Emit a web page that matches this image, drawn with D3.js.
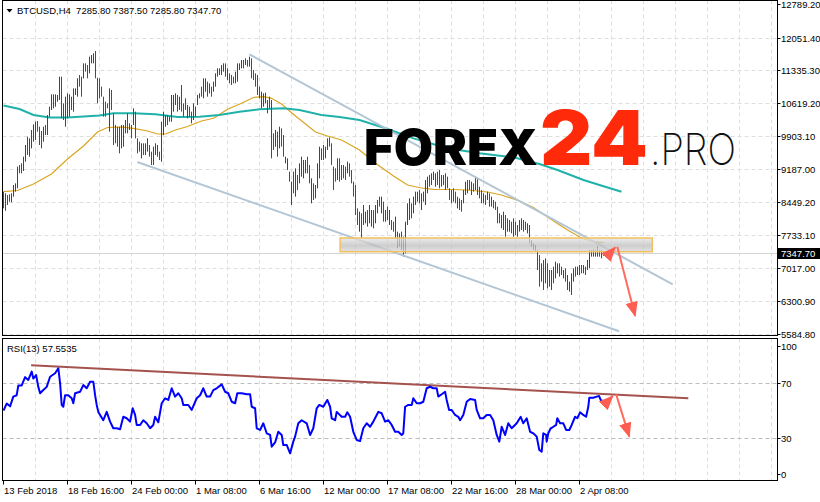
<!DOCTYPE html>
<html><head><meta charset="utf-8">
<script src="https://cdn.jsdelivr.net/npm/d3@7"></script>
<style>
html,body{margin:0;padding:0;background:#fff;}
svg{display:block;}
text{font-family:"Liberation Sans",Arial,sans-serif;font-size:9.5px;fill:#000;}
</style></head><body>
<svg id="chart" width="820" height="502"></svg>
<script>
// BTCUSD H4 bars, one entry per 4-hour bar (13 Feb 2018 08:00 onward)
const open = [
8613,8346,8569,8595,8492,8627,8722,8854,9233,9261,
9201,9415,9808,9531,9713,9855,9896,10184,10027,9936,
9845,10099,10012,10370,10540,10569,10598,10683,10792,11018,
10544,10238,10398,10424,10705,10537,10829,10843,11186,11113,
11230,11456,11397,11346,11528,11536,11642,11066,11077,10938,
10676,10588,10595,10187,10822,10260,10063,10020,9990,9735,
9765,10019,10311,10151,10085,10216,10318,9786,9735,9481,
9692,9539,9619,9655,9503,9349,9539,9502,9524,9517,
10027,10158,10318,10238,10333,10508,10632,10727,10530,10901,
10559,10676,10347,10500,10384,10326,10370,10625,10749,10938,
10814,10930,11025,10880,10938,10916,11040,11237,11354,11281,
11346,11434,11178,11229,11193,11171,11106,11171,11375,11419,
11529,11484,11536,11463,11514,11302,11215,11150,10931,10581,
10602,10664,10632,10712,10435,9888,9743,9889,9728,9990,
9830,9334,9211,9079,8496,9028,8701,8984,8955,9101,
9057,9145,9378,9189,8540,8795,8598,8868,9116,9429,
9640,9466,9648,9832,9648,9131,9138,9036,9313,9203,
9211,9175,9138,9247,9102,8839,8701,8248,7898,8103,
8044,8045,8212,8074,7994,8205,8074,8270,8533,8285,
8380,8081,8300,8023,8022,7986,7761,7738,7717,7731,
7615,7476,8052,8161,8365,8285,8452,8511,8664,8358,
8642,8503,8723,8999,8882,8977,8853,9065,9080,8846,
8875,9014,8963,8708,8664,8525,8635,8372,8489,8453,
8489,8671,8708,8897,8671,8832,8780,8904,8744,8664,
8475,8569,8540,8592,8402,8468,8431,8285,8168,8117,
7928,7797,8045,7862,7979,7782,7972,7906,7862,7899,
8015,7994,7819,7877,7600,7527,7491,7323,7163,6798,
7061,6791,7010,6900,6623,6973,6864,6944,7061,7010,
6827,6952,6602,6544,6522,6776,7002,6900,6908,7046,
6936,7010,7017,7090,7382,7297,7382,7312,7382,7374,
7285.8];
const high = [
8686,8649,8613,8627,8649,8832,8868,9233,9269,9305,
9451,9706,9888,9852,10034,10158,10216,10231,10107,10012,
10107,10143,10362,10544,10814,10814,10814,10800,11200,11200,
10617,10763,10836,10814,10763,10945,10945,11164,11237,11200,
11492,11492,11455,11638,11674,11711,11762,11178,11164,10982,
10763,10654,10617,10945,10909,10399,10143,10107,10107,10143,
10143,10253,10399,10180,10143,10508,10435,9852,9779,9743,
9743,9743,9852,9706,9561,9670,9743,9706,9561,10216,
10435,10362,10362,10326,10800,10800,10836,10800,10763,11018,
10617,10727,10581,10544,10435,10617,10544,10800,10836,10982,
11164,11164,11091,11055,10982,11091,11273,11383,11383,11455,
11492,11492,11383,11273,11237,11200,11310,11492,11492,11565,
11565,11601,11565,11638,11601,11346,11273,11237,10982,10872,
10836,10850,10690,10763,10690,9961,10034,9998,10107,10070,
9925,9451,9415,9123,8905,9123,9196,9050,9305,9451,
9378,9378,9451,9269,8977,8868,8832,9305,9670,9633,
9706,9670,9852,9873,9743,9233,9196,9415,9415,9269,
9269,9233,9342,9305,9160,8905,8832,8321,8248,8212,
8394,8248,8285,8394,8285,8285,8394,8504,8577,8577,
8467,8285,8358,8285,8066,8030,8139,7811,7775,7811,
7702,8030,8431,8540,8431,8577,8686,8686,8722,8650,
8686,8941,9014,9050,9087,9123,9087,9123,9160,9050,
9050,9087,9014,8759,8722,8759,8686,8577,8540,8504,
8722,8904,8941,8941,8904,8868,9014,8977,8795,8722,
8650,8613,8686,8650,8577,8504,8467,8358,8212,8175,
8248,8175,8103,8066,8030,8103,8030,7957,8066,8103,
8066,8030,7994,7957,7629,7556,7520,7411,7301,7119,
7192,7228,7119,6973,6973,7046,7155,7119,7119,7046,
6973,7010,6864,6718,6900,7010,7046,7046,7082,7082,
7082,7046,7192,7411,7411,7425,7411,7498,7411,7411,
7387.5];
const low = [
8321,8270,8394,8467,8453,8576,8686,8759,9087,9087,
9138,9342,9488,9451,9633,9779,9816,9998,9706,9633,
9779,9925,9925,10326,10472,10508,10544,10654,10690,10289,
10253,10107,10289,10326,10472,10435,10800,10763,10982,10763,
11164,11310,11164,11273,11492,11492,11164,10617,10727,10763,
10326,10326,10508,9998,10472,9706,9743,9670,9524,9633,
9670,9961,9961,10034,9852,10143,9852,9524,9561,9415,
9488,9488,9561,9451,9269,9269,9488,9451,9378,9342,
9925,10107,10143,10216,10216,10435,10581,10435,10472,10435,
10326,10472,10289,10326,10180,10253,10326,10581,10727,10763,
10727,10872,10763,10836,10763,10872,10982,11200,11237,11237,
11310,11200,11127,11055,11018,11055,11055,11091,11346,11383,
11383,11455,11419,11419,11164,11127,10982,10800,10727,10508,
10544,10617,10399,10508,9415,9597,9670,9451,9633,9670,
9451,9305,9160,8905,8394,8649,8577,8722,8868,9014,
8977,9087,9087,8868,8431,8504,8540,8759,8977,9378,
9378,9415,9597,9670,9269,8722,8905,8941,8905,8941,
8977,8941,9087,9014,8868,8577,8175,7957,7811,7666,
7957,7994,7921,7994,7921,7884,7994,8212,8358,8212,
8030,8030,8066,7957,7848,7811,7666,7447,7483,7410,
7265,7338,7957,8066,8103,8212,8394,8467,8431,8285,
8467,8394,8650,8795,8831,8941,8795,8831,8759,8795,
8831,8722,8759,8504,8431,8467,8431,8321,8285,8248,
8431,8613,8650,8722,8613,8686,8722,8613,8540,8431,
8431,8394,8504,8358,8358,8322,8285,7994,7994,7884,
7848,7702,7811,7811,7775,7702,7738,7702,7811,7848,
7811,7848,7775,7556,7483,7411,7374,6973,6609,6718,
6536,6682,6572,6609,6536,6682,6791,6900,6827,6864,
6791,6718,6536,6500,6427,6718,6827,6864,6864,6900,
6900,6864,6973,7010,7265,7265,7265,7265,7265,7228,
7285.8];
const close = [
8394,8573,8438,8499,8610,8781,8832,9138,9123,9131,
9388,9633,9568,9772,9954,10082,10136,10045,9786,9709,
10041,9969,10275,10500,10746,10753,10760,10771,11098,10471,
10326,10632,10727,10716,10530,10843,10916,11084,11033,10850,
11426,11346,11222,11565,11638,11667,11284,10729,10814,10807,
10413,10392,10530,10756,10559,9845,9823,9757,9641,10041,
10048,10195,10049,10063,9910,10435,9969,9590,9605,9677,
9539,9692,9794,9502,9327,9590,9692,9655,9415,10041,
10333,10311,10187,10304,10683,10727,10785,10508,10705,10552,
10384,10523,10523,10370,10231,10544,10500,10756,10814,10807,
11077,11106,10829,11011,10807,11047,11215,11346,11266,11411,
11456,11258,11332,11099,11062,11084,11259,11412,11463,11529,
11419,11572,11448,11594,11251,11171,11040,10887,10778,10799,
10778,10803,10457,10559,9670,9670,9961,9560,10012,9750,
9546,9422,9364,8949,8803,8744,9072,8788,9218,9364,
9298,9320,9160,8948,8868,8577,8774,9196,9531,9582,
9444,9619,9801,9711,9364,8824,8963,9320,9007,9007,
9035,8999,9291,9072,8926,8643,8306,8030,8161,7775,
8307,8197,7994,8314,8212,7964,8314,8446,8402,8504,
8117,8234,8124,8219,7892,7855,8044,7520,7541,7490,
7352,7892,8336,8445,8169,8504,8628,8642,8489,8577,
8511,8832,8941,8846,9036,9087,9029,8889,8839,8999,
9006,8795,8810,8555,8489,8701,8482,8526,8336,8299,
8664,8846,8883,8766,8846,8722,8956,8686,8591,8489,
8606,8438,8650,8416,8533,8358,8321,8067,8038,7942,
8168,8080,7869,8015,7826,8023,7796,7753,8015,8052,
7862,7884,7950,7636,7512,7440,7403,7061,6747,7039,
6667,7119,6681,6682,6886,6755,7082,7075,6885,6900,
6937,6776,6798,6674,6805,6952,6871,7010,7038,6936,
7046,6900,7148,7331,7294,7393,7294,7451,7294,7265,
7347.7];

// Fast moving average (bar index, price)
const maFastBar = [0,7,15,24,32,40,47,52,59,65,72,77,81,86,92,99,105,112,119,125,130,134,139,146,156,162,169,178,186,195,202,209,215,224,232,242,249,258,265,275,282,289,295,300];
const maFastVal = [8685,8711,8853,9072,9400,9684,9991,10089,10100,10071,10012,9947,9947,10034,10111,10231,10290,10487,10618,10745,10762,10727,10603,10340,9991,9903,9816,9597,9306,9028,8831,8766,8737,8733,8722,8679,8613,8482,8340,8044,7847,7673,7592,7570];

// Slow moving average, drawn with a forward shift (bar index, price)
const maSlowBar = [0,8,15,23,32,40,48,55,65,76,87,98,108,118,128,140,148,159,168,178,191,205,222,238,255,268,277,290,298,309];
const maSlowVal = [10570,10493,10362,10308,10308,10329,10351,10399,10399,10380,10318,10325,10362,10434,10487,10509,10472,10362,10318,10253,10071,9852,9634,9524,9437,9291,9160,8941,8831,8685];

// RSI(13) readings (bar index, value)
const rsiBar = [0,1.6,3.3,4.9,6.6,7.4,9.1,10.8,12.4,14.1,14.9,16.3,17.4,18.3,19.9,21.6,23.3,25.8,27.4,28.3,29.1,29.9,30.8,32.4,34.1,34.9,35.8,38.3,39.9,41.6,43.3,44.9,45.8,46.6,47.4,48.3,49.9,51.6,53.3,54.9,56.6,58.3,59.9,61.6,63.3,64.6,65.8,66.6,68.3,69.9,71.6,73.3,74.9,75.8,77.4,79.1,80.8,82.4,84.1,85.8,87.4,89.1,89.9,92.4,94.1,96.6,98.3,99.9,101.6,103.3,104.9,106.6,109.1,110.8,112.4,114.1,115.8,116.9,119.1,121.6,123.3,124.1,125.8,126.6,128.3,129.9,131.6,133.3,134.1,135.8,137.4,139.1,139.9,141.6,143.3,144.9,145.8,147.4,149.1,151.6,153.3,154.9,156.6,157.9,159.9,161.9,163.3,164.1,165.8,166.6,169.1,170.8,171.9,173.3,174.9,176.6,178.3,179.9,181.6,183.3,184.9,186.6,187.4,189.1,190.8,192.4,194.1,195.8,197.4,199.1,199.9,200.8,202.4,204.1,204.9,206.6,208.3,209.9,211.6,213.3,214.9,216.6,217.4,219.1,220.8,221.6,222.8,224.1,225.8,227.4,228.3,229.9,231.6,233.3,235.8,236.6,238.3,239.9,241.6,243.3,244.9,246.6,247.9,249.1,250.8,252.4,254.1,256.6,258.6,259.9,261.6,263.3,264.9,266.6,267.9,269.1,269.9,271.3,271.6,272.4,273.6,274.9,276.3,276.9,278.3,279.9,281.3,282.9,284.1,285.8,286.9,288.3,289.9,291.3,292.4,292.9,294.9,296.6,297.8,298.6,299.6,300];
const rsiVal = [50,55,53,60,61,68,68,74,72,78,73,75.5,67,62.4,64.7,67,74.3,76.8,80.4,69.6,54,52.7,61,61,58.8,55.2,62.4,63.5,68.3,66,70.7,70.7,61,54,49,46.8,43,49,42,37.2,37.2,36.5,45.5,44.4,42,51.6,46.8,39.6,39.6,43,40.8,37.2,39.6,45.5,41.5,55.2,58.8,57.6,66,60,62.4,58.8,54,54,50.4,58.8,61,66,60,60,64.7,66,68.8,63.5,62.4,56.3,55.2,62.4,62.4,61.7,61.7,52.7,51.6,37.2,36,40.8,33.6,32.4,24,27,34.7,32.4,25.2,25.2,19.2,27.6,31.2,40.8,43,40.8,32.4,37.2,51.6,54,52.7,57.6,52.7,44.4,43,49,45.5,45.5,48.7,45.5,34.7,28.8,28,37.2,40.8,38.3,42,46.8,49,48,42,43,39.6,34.7,34.7,32.4,33.6,52.7,54,54,58.8,55.2,55.2,56.3,66,67.1,66,66,60,61.7,63.5,57.6,50.4,50.4,46.8,45.5,43,46.8,56.3,58.3,57.6,50.4,44.4,44.4,46.8,46.8,43,32.4,27.6,38.3,32.4,40.8,37.2,40.8,45.5,40.8,44.4,34.7,33.6,31.2,21.6,20.4,33.6,32.4,27.6,33.6,37.2,38.3,39.6,44.4,40.8,40.8,36,36,39.6,45.5,44.4,48.7,46.8,45.5,52.7,59.2,59.2,60,60.4,57.6,56.3,57.55];

// Axis labels
const priceTicks = [12789.2,12051.4,11335.3,10619.2,9903.1,9187.0,8449.2,7733.1,7017.0,6300.9,5584.8];
const rsiTicks = [100,70,30,0];
const rsiLevels = [70,30];
const timeLabels = ["13 Feb 2018","18 Feb 16:00","24 Feb 00:00","1 Mar 08:00","6 Mar 16:00","12 Mar 00:00","17 Mar 08:00","22 Mar 16:00","28 Mar 00:00","2 Apr 08:00"];
const timeLabelBars = [0,32,64,96,128,160,192,224,256,288];
const lastPrice = 7347.70;
const rsiLast = 57.5535;

// Drawn analysis objects (bar index, price / RSI value)
const channelUpper = [[122.9,11689],[334.6,6660]];
const channelLower = [[66.9,9334],[307.8,5633]];
const zoneBars = [168.3,324.4];
const zonePrices = [7373,7673];
const priceArrows = [[301.6,7257,305.8,7469],[306.9,7482,315.8,5973]];
const rsiTrend = [[13.8,82.5],[342.4,58.8]];
const rsiArrows = [[300.3,54,304.6,60.4],[306.3,61.7,312.9,31.2]];

const svg = d3.select("#chart");
const L = 2.5, R = 777.5;
const mainTop = 0.5, mainBottom = 335.5, rsiTop = 338.5, rsiBottom = 480.5;

const x = d3.scaleLinear().domain([0, 1]).range([3.5, 5.5]);
const y = d3.scaleLinear().domain([5584.8, 12789.2]).range([333.5, 4]);
const yr = d3.scaleLinear().domain([0, 100]).range([480, 341]);

const defs = svg.append("defs");
defs.append("clipPath").attr("id", "clipMain").append("rect")
  .attr("x", L).attr("y", mainTop).attr("width", R - L).attr("height", mainBottom - mainTop);
defs.append("clipPath").attr("id", "clipRsi").append("rect")
  .attr("x", L).attr("y", rsiTop).attr("width", R - L).attr("height", rsiBottom - rsiTop);
const grad = defs.append("linearGradient").attr("id", "zoneFill")
  .attr("x1", 0).attr("y1", 0).attr("x2", 0).attr("y2", 1);
grad.append("stop").attr("offset", "0%").attr("stop-color", "#e6e6e6");
grad.append("stop").attr("offset", "55%").attr("stop-color", "#bdbdbd");
grad.append("stop").attr("offset", "100%").attr("stop-color", "#d9d9d9");
defs.append("marker").attr("id", "head").attr("viewBox", "0 0 12 10")
  .attr("refX", 11).attr("refY", 5).attr("markerWidth", 15).attr("markerHeight", 13)
  .attr("markerUnits", "userSpaceOnUse").attr("orient", "auto")
  .append("path").attr("d", "M0,0 L12,5 L0,10 Z").attr("fill", "#ff5d52");

const gMain = svg.append("g").attr("clip-path", "url(#clipMain)");
const gRsi = svg.append("g").attr("clip-path", "url(#clipRsi)");

// grid
const gridBars = d3.range(16, 385, 16);
[[gMain, mainTop, mainBottom], [gRsi, rsiTop, rsiBottom]].forEach(([g, t, b]) => {
  g.selectAll(null).data(gridBars).join("line")
    .attr("x1", d => x(d)).attr("x2", d => x(d)).attr("y1", t).attr("y2", b)
    .attr("stroke", "#dedede").attr("stroke-dasharray", "4,3");
});
gMain.selectAll(null).data(priceTicks.slice(1)).join("line")
  .attr("x1", L).attr("x2", R)
  .attr("y1", d => Math.round(y(d)) + 0.5).attr("y2", d => Math.round(y(d)) + 0.5)
  .attr("stroke", "#dedede").attr("stroke-dasharray", "4,3");
gRsi.selectAll(null).data(rsiLevels).join("line")
  .attr("x1", L).attr("x2", R)
  .attr("y1", d => Math.round(yr(d)) + 0.5).attr("y2", d => Math.round(yr(d)) + 0.5)
  .attr("stroke", "#bdbdbd").attr("stroke-dasharray", "4,3");

// bid line
gMain.append("line").attr("x1", L).attr("x2", R)
  .attr("y1", Math.round(y(lastPrice)) + 0.5).attr("y2", Math.round(y(lastPrice)) + 0.5)
  .attr("stroke", "#d4d4d4");

// moving averages
const lineFast = d3.line().x((d, i) => x(maFastBar[i])).y(d => y(d));
gMain.append("path").attr("d", lineFast(maFastVal)).attr("fill", "none")
  .attr("stroke", "#daa520").attr("stroke-width", 1.2);
const lineSlow = d3.line().x((d, i) => x(maSlowBar[i])).y(d => y(d));
gMain.append("path").attr("d", lineSlow(maSlowVal)).attr("fill", "none")
  .attr("stroke", "#20b2aa").attr("stroke-width", 2);

// bars
gMain.selectAll(null).data(d3.range(high.length)).join("line")
  .attr("x1", i => x(i)).attr("x2", i => x(i))
  .attr("y1", i => y(high[i])).attr("y2", i => y(low[i]))
  .attr("stroke", i => close[i] >= open[i] ? "#2f4f4f" : "#ff0000")
  .attr("stroke-width", 1);

// channel
[channelUpper, channelLower].forEach(c => {
  gMain.append("line")
    .attr("x1", x(c[0][0])).attr("y1", y(c[0][1]))
    .attr("x2", x(c[1][0])).attr("y2", y(c[1][1]))
    .attr("stroke", "#b3c6d6").attr("stroke-width", 2);
});

// resistance zone
gMain.append("rect")
  .attr("x", x(zoneBars[0])).attr("y", y(zonePrices[1]))
  .attr("width", x(zoneBars[1]) - x(zoneBars[0])).attr("height", y(zonePrices[0]) - y(zonePrices[1]))
  .attr("fill", "url(#zoneFill)").attr("fill-opacity", 0.75)
  .attr("stroke", "#f1c15f").attr("stroke-width", 1.5);

// watermark
const wm = svg.append("g");
wm.append("text").attr("x", 364).attr("y", 164.5).text("FOREX")
  .style("font-family", "Inter, Roboto, 'Open Sans', sans-serif").style("font-weight", 900)
  .style("font-size", "50px").style("fill", "#000")
  .attr("textLength", 174).attr("lengthAdjust", "spacingAndGlyphs");
wm.append("text").attr("x", 540).attr("y", 164.5).text("24")
  .style("font-family", "Inter, Roboto, 'Open Sans', sans-serif").style("font-weight", 900)
  .style("font-size", "76px").style("fill", "#ff2a0a")
  .attr("textLength", 108).attr("lengthAdjust", "spacingAndGlyphs");
wm.append("text").attr("x", 650).attr("y", 164.5).text(".PRO")
  .style("font-family", "Inter, Lato, 'Open Sans', sans-serif").style("font-weight", 200)
  .style("font-size", "44px").style("fill", "#111")
  .attr("textLength", 86).attr("lengthAdjust", "spacingAndGlyphs");

// price arrows
priceArrows.forEach(a => {
  gMain.append("line").attr("x1", x(a[0])).attr("y1", y(a[1])).attr("x2", x(a[2])).attr("y2", y(a[3]))
    .attr("stroke", "#ff6b5e").attr("stroke-width", 2).attr("marker-end", "url(#head)");
});

// RSI
gRsi.append("line")
  .attr("x1", x(rsiTrend[0][0])).attr("y1", yr(rsiTrend[0][1]))
  .attr("x2", x(rsiTrend[1][0])).attr("y2", yr(rsiTrend[1][1]))
  .attr("stroke", "#a4524e").attr("stroke-width", 2);
const lineRsi = d3.line().x((d, i) => x(rsiBar[i])).y(d => yr(d));
gRsi.append("path").attr("d", lineRsi(rsiVal)).attr("fill", "none")
  .attr("stroke", "#0000ff").attr("stroke-width", 2).attr("stroke-linejoin", "round");
rsiArrows.forEach(a => {
  gRsi.append("line").attr("x1", x(a[0])).attr("y1", yr(a[1])).attr("x2", x(a[2])).attr("y2", yr(a[3]))
    .attr("stroke", "#ff6b5e").attr("stroke-width", 2).attr("marker-end", "url(#head)");
});

// frames
svg.append("rect").attr("x", L).attr("y", mainTop).attr("width", R - L).attr("height", mainBottom - mainTop)
  .attr("fill", "none").attr("stroke", "#000");
svg.append("rect").attr("x", L).attr("y", rsiTop).attr("width", R - L).attr("height", rsiBottom - rsiTop)
  .attr("fill", "none").attr("stroke", "#000");

// price axis
const pa = svg.append("g");
priceTicks.forEach(p => {
  const yy = Math.round(y(p)) + 0.5;
  pa.append("line").attr("x1", R).attr("x2", R + 3).attr("y1", yy).attr("y2", yy).attr("stroke", "#000");
  pa.append("text").attr("x", 781).attr("y", yy + 3.5).text(p.toFixed(2));
});
const by = Math.round(y(lastPrice)) + 0.5;
pa.append("rect").attr("x", 778).attr("y", by - 5.5).attr("width", 42).attr("height", 11).attr("fill", "#000");
pa.append("text").attr("x", 781).attr("y", by + 3.5).text(lastPrice.toFixed(2)).style("fill", "#fff");

// rsi axis
rsiTicks.forEach(v => {
  const yy = Math.round(Math.max(rsiTop + 7, Math.min(rsiBottom - 6.5, yr(v)))) + 0.5;
  svg.append("line").attr("x1", R).attr("x2", R + 3).attr("y1", yy).attr("y2", yy).attr("stroke", "#000");
  svg.append("text").attr("x", 781).attr("y", yy + 3.5).text(v);
});

// time axis
timeLabels.forEach((t, k) => {
  const xx = Math.round(x(timeLabelBars[k])) - 0.5;
  svg.append("line").attr("x1", xx).attr("x2", xx).attr("y1", rsiBottom).attr("y2", rsiBottom + 4).attr("stroke", "#000");
  svg.append("text").attr("x", xx + 0.5).attr("y", 494).text(t);
});

// headers
svg.append("path").attr("d", "M6.5,9 L12.5,9 L9.5,12.5 Z").attr("fill", "#000");
svg.append("text").attr("x", 17).attr("y", 14)
  .text("BTCUSD,H4  " + [open, high, low, close].map(a => a[a.length - 1].toFixed(2)).join(" "))
  .style("white-space", "pre");
svg.append("text").attr("x", 7).attr("y", 352).text("RSI(13) " + rsiLast.toFixed(4));
</script>
</body></html>
